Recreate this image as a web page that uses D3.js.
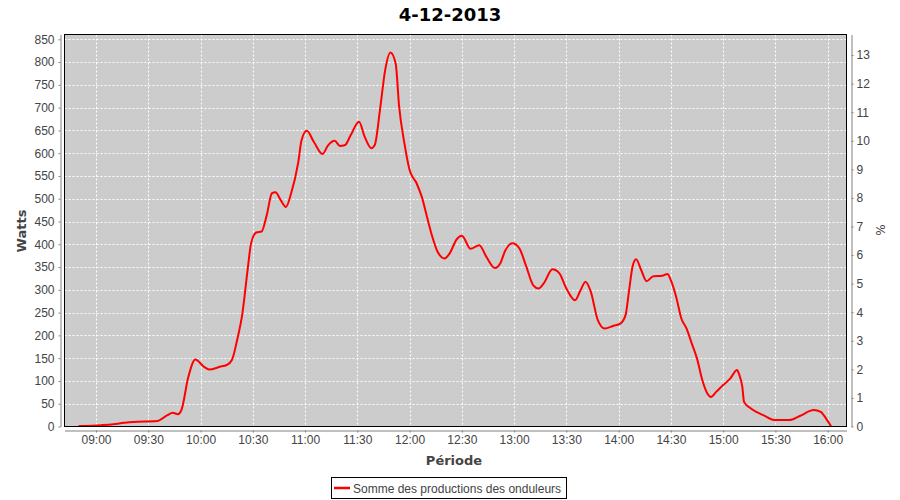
<!DOCTYPE html>
<html>
<head>
<meta charset="utf-8">
<script src="https://cdn.jsdelivr.net/npm/d3@7"></script>
<style>
  html, body { margin: 0; padding: 0; background: #ffffff; }
  svg { display: block; }
</style>
</head>
<body>
<svg id="chart" width="900" height="500"></svg>
<script>
// ---- data ----
const times = ["08:50","09:03","09:10","09:16","09:21","09:35","09:41","09:44","09:47","09:49",
  "09:53","09:57","10:02","10:05","10:11","10:15","10:18","10:21","10:24","10:27",
  "10:29","10:32","10:35","10:38","10:41","10:43","10:46","10:49","10:52","10:56",
  "10:58","11:01","11:05","11:10","11:13","11:17","11:20","11:23","11:26","11:31",
  "11:34","11:38","11:40","11:43","11:46","11:49","11:52","11:54","11:57","12:00",
  "12:04","12:07","12:10","12:13","12:16","12:20","12:23","12:27","12:30","12:35",
  "12:40","12:44","12:49","12:52","12:55","12:59","13:03","13:07","13:11","13:14",
  "13:17","13:22","13:26","13:30","13:35","13:38","13:41","13:44","13:48","13:52",
  "13:57","14:01","14:04","14:06","14:08","14:10","14:13","14:16","14:20","14:25",
  "14:28","14:30","14:33","14:36","14:39","14:42","14:45","14:48","14:51","14:53",
  "14:56","15:00","15:04","15:08","15:09","15:11","15:12","15:15","15:19","15:23",
  "15:30","15:38","15:44","15:52","15:56","15:59","16:02"];
const watts = [1,3,5,8,10,12,25,30,27,36,
  109,147,131,125,131,135,146,190,248,343,
  402,426,428,464,512,514,497,482,512,578,
  629,649,625,598,616,627,616,618,638,669,
  638,611,618,695,783,821,797,702,622,563,
  534,504,460,417,384,369,380,411,419,390,
  398,373,348,358,387,402,391,351,310,303,
  314,345,336,303,277,298,318,296,234,215,
  221,226,245,299,351,367,343,319,330,331,
  335,321,285,237,215,182,149,102,72,65,
  76,91,105,124,116,87,54,42,32,25,
  14,14,23,36,32,18,0];
const leftTicks = [0,50,100,150,200,250,300,350,400,450,500,550,600,650,700,750,800,850];
const rightTicks = [0,1,2,3,4,5,6,7,8,9,10,11,12,13];
const xTickLabels = ["09:00","09:30","10:00","10:30","11:00","11:30","12:00","12:30",
  "13:00","13:30","14:00","14:30","15:00","15:30","16:00"];
const seriesName = "Somme des productions des onduleurs";
const title = "4-12-2013";

// ---- layout ----
const svg = d3.select("#chart");
const P = { left: 64.5, right: 846.5, top: 34.5, bottom: 426.5 };
const parse = d3.timeParse("%H:%M");

const x = d3.scaleTime()
  .domain([new Date(1900,0,1,8,41,54), new Date(1900,0,1,16,10,48)])
  .range([P.left, P.right]);
const yL = d3.scaleLinear().domain([0, 860.5]).range([P.bottom, P.top]);
const yR = d3.scaleLinear().domain([0, 13.72]).range([P.bottom, P.top]);

// plot background
svg.append("rect")
  .attr("x", P.left).attr("y", P.top)
  .attr("width", P.right - P.left).attr("height", P.bottom - P.top)
  .attr("fill", "#cccccc");

// grid
const grid = svg.append("g").attr("stroke", "#ffffff").attr("stroke-width", 1)
  .attr("stroke-dasharray", "2,2");
grid.selectAll("line.h").data(leftTicks.filter(d => d > 0)).enter().append("line")
  .attr("x1", P.left).attr("x2", P.right)
  .attr("y1", d => Math.round(yL(d)) + 0.5).attr("y2", d => Math.round(yL(d)) + 0.5);
grid.selectAll("line.v").data(xTickLabels.map(parse)).enter().append("line")
  .attr("y1", P.top).attr("y2", P.bottom)
  .attr("x1", d => Math.round(x(d)) + 0.5).attr("x2", d => Math.round(x(d)) + 0.5);

// series
svg.append("clipPath").attr("id", "clip").append("rect")
  .attr("x", P.left).attr("y", P.top)
  .attr("width", P.right - P.left).attr("height", P.bottom - P.top);
const pts = times.map((t, i) => ({ t: parse(t), v: watts[i] }));
const line = d3.line().x(d => x(d.t)).y(d => yL(d.v)).curveMonotoneX;
svg.append("path")
  .datum(pts)
  .attr("clip-path", "url(#clip)")
  .attr("fill", "none")
  .attr("stroke", "#ff0000")
  .attr("stroke-width", 2)
  .attr("stroke-linejoin", "round")
  .attr("d", d3.line().x(d => x(d.t)).y(d => yL(d.v)).curve(d3.curveMonotoneX));

// plot border
svg.append("rect")
  .attr("x", P.left).attr("y", P.top)
  .attr("width", P.right - P.left).attr("height", P.bottom - P.top)
  .attr("fill", "none").attr("stroke", "#000000").attr("stroke-width", 1);

// axes
function styleAxis(g) {
  g.selectAll("path.domain").attr("stroke", "#808080");
  g.selectAll(".tick line").attr("stroke", "#808080");
  g.selectAll(".tick text")
    .attr("fill", "#444444")
    .style("font-family", "'Liberation Sans', Arial, sans-serif")
    .style("font-size", "12px");
}
svg.append("g").attr("transform", "translate(60.5,0)")
  .call(d3.axisLeft(yL).tickValues(leftTicks).tickSize(2).tickSizeOuter(0).tickPadding(4))
  .call(styleAxis);
svg.append("g").attr("transform", "translate(851.5,0)")
  .call(d3.axisRight(yR).tickValues(rightTicks).tickSize(2).tickSizeOuter(0).tickPadding(3))
  .call(styleAxis);
svg.append("g").attr("transform", "translate(0,430.5)")
  .call(d3.axisBottom(x).tickValues(xTickLabels.map(parse)).tickFormat(d3.timeFormat("%H:%M"))
    .tickSize(2).tickSizeOuter(0).tickPadding(3))
  .call(styleAxis);
svg.selectAll(".domain").attr("d", function() { return d3.select(this).attr("d"); });

// title
svg.append("text").attr("x", 450).attr("y", 21).attr("text-anchor", "middle")
  .style("font-family", "'DejaVu Sans', sans-serif").style("font-weight", "bold")
  .style("font-size", "18px").attr("fill", "#000000").text(title);

// axis labels
svg.append("text").attr("transform", "translate(26,231) rotate(-90)")
  .attr("text-anchor", "middle")
  .style("font-family", "'DejaVu Sans', sans-serif").style("font-weight", "bold")
  .style("font-size", "13px").attr("fill", "#444444").text("Watts");
svg.append("text").attr("transform", "translate(885,230) rotate(-90)")
  .attr("text-anchor", "middle")
  .style("font-family", "'DejaVu Sans', sans-serif")
  .style("font-size", "12px").attr("fill", "#444444").text("%");
svg.append("text").attr("x", 454).attr("y", 465).attr("text-anchor", "middle")
  .style("font-family", "'DejaVu Sans', sans-serif").style("font-weight", "bold")
  .style("font-size", "13px").attr("fill", "#444444").text("Période");

// legend
const lg = svg.append("g");
lg.append("rect").attr("x", 331.5).attr("y", 477.5).attr("width", 235).attr("height", 21)
  .attr("fill", "#ffffff").attr("stroke", "#000000").attr("stroke-width", 1);
lg.append("line").attr("x1", 334).attr("x2", 350).attr("y1", 488).attr("y2", 488)
  .attr("stroke", "#ff0000").attr("stroke-width", 2.5);
lg.append("text").attr("x", 353).attr("y", 492.5)
  .style("font-family", "'Liberation Sans', Arial, sans-serif")
  .style("font-size", "12px").attr("fill", "#444444").text(seriesName);
</script>
</body>
</html>
